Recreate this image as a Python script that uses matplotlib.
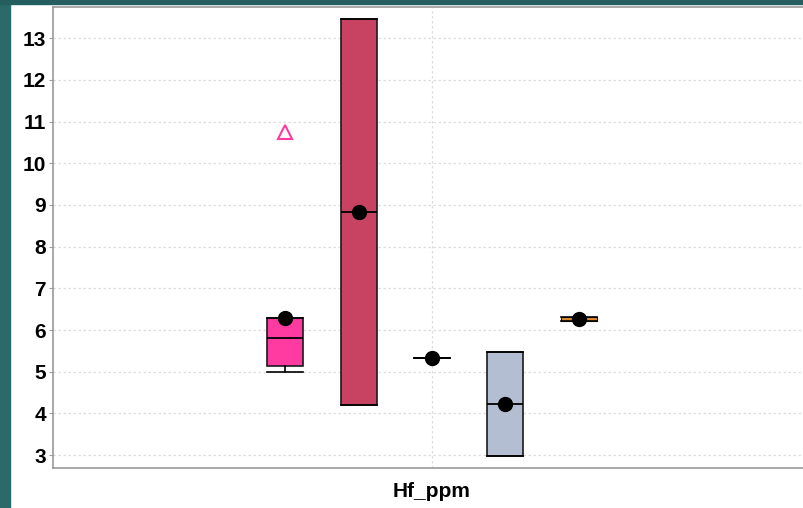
import matplotlib
matplotlib.use('Agg')
from matplotlib import pyplot as plt
from matplotlib.patches import Rectangle

plt.rcParams['font.family'] = ['Liberation Sans', 'DejaVu Sans']

# box statistics per group (Hf_ppm)
positions = [-2, -1, 0, 1, 2]
whislo = [5.00, 4.20, 5.33, 2.98, 6.21]
q1 = [5.14, 4.20, 5.33, 2.98, 6.21]
med = [5.81, 8.82, 5.33, 4.23, 6.27]
q3 = [6.29, 13.46, 5.33, 5.48, 6.32]
whishi = [6.29, 13.46, 5.33, 5.48, 6.32]
means = [6.29, 8.82, 5.33, 4.23, 6.27]
fliers = [[10.76], [], [], [], []]
colors = ['#FF3AA0', '#C84262', '#FFFFFF', '#B4BED2', '#E0892A']
category = 'Hf_ppm'
yticks = [3, 4, 5, 6, 7, 8, 9, 10, 11, 12, 13]

fig = plt.figure(figsize=(8.04, 5.08), dpi=100)
# teal slide background strips
fig.patches.append(Rectangle((0, 0), 10/804, 1, transform=fig.transFigure,
                             color='#2A6A68', zorder=-1))
fig.patches.append(Rectangle((0, 1-4/508), 1, 4/508, transform=fig.transFigure,
                             color='#245E5E', zorder=-1))

ax = fig.add_axes([53/804, 40/508, 758/804, 461/508])

stats = []
for i in range(len(positions)):
    stats.append(dict(whislo=whislo[i], q1=q1[i], med=med[i], q3=q3[i],
                      whishi=whishi[i], mean=means[i], fliers=fliers[i]))

bp = ax.bxp(stats, positions=positions, widths=0.49, patch_artist=True,
            showmeans=True, capwidths=0.49,
            medianprops=dict(color='black', lw=1.3),
            whiskerprops=dict(color='black', lw=1.2),
            capprops=dict(color='black', lw=1.2),
            meanprops=dict(marker='o', markerfacecolor='black',
                           markeredgecolor='black', markersize=10),
            flierprops=dict(marker='^', markerfacecolor='none',
                            markeredgecolor='#FF3AA0', markersize=10,
                            markeredgewidth=1.5))
for patch, c in zip(bp['boxes'], colors):
    patch.set_facecolor(c)
    patch.set_edgecolor('#1A1A1A')
    patch.set_linewidth(1.2)
# the tiny orange box: thin outline and no median line so the fill shows
bp['boxes'][4].set_linewidth(0.8)
bp['medians'][4].set_visible(False)

ax.set_xlim(-5.16, 5.16)
ax.set_ylim(2.69, 13.75)
ax.set_yticks(yticks)
ax.set_xticks([0])
ax.set_xticklabels([category])
ax.tick_params(axis='y', labelsize=15, length=3, color='#999999', pad=2)
ax.tick_params(axis='x', labelsize=15, length=0, pad=10)
for lab in ax.get_yticklabels() + ax.get_xticklabels():
    lab.set_fontweight('semibold')
ax.grid(True, ls=(0, (2, 2)), color='#DDDDDD', lw=0.9)
ax.set_axisbelow(True)
for s in ax.spines.values():
    s.set_color('#999999')
    s.set_linewidth(1.2)

fig.savefig('out.png', dpi=100)
